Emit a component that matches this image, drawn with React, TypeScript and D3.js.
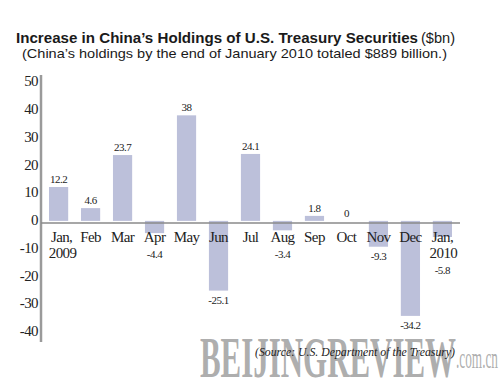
import React from "react";
import * as d3 from "d3";

const months = ["Jan,", "Feb", "Mar", "Apr", "May", "Jun", "Jul", "Aug", "Sep", "Oct", "Nov", "Dec", "Jan,"];
const years = ["2009", "", "", "", "", "", "", "", "", "", "", "", "2010"];
const values = [12.2, 4.6, 23.7, -4.4, 38, -25.1, 24.1, -3.4, 1.8, 0, -9.3, -34.2, -5.8];
const valueLabels = ["12.2", "4.6", "23.7", "-4.4", "38", "-25.1", "24.1", "-3.4", "1.8", "0", "-9.3", "-34.2", "-5.8"];
const yTicks = [50, 40, 30, 20, 10, 0, -10, -20, -30, -40];

const title = "Increase in China\u2019s Holdings of U.S. Treasury Securities";
const titleUnit = "($bn)";
const subtitle = "(China\u2019s holdings by the end of January 2010 totaled $889 billion.)";
const source = "(Source: U.S. Department of the Treasury)";

export default function App() {
  const W = 500, H = 380;
  const axisX = 41, axisEnd = 460;
  const x = d3.scaleBand<number>().domain(d3.range(values.length)).range([axisX, axisEnd]).paddingInner(0.4).paddingOuter(0.25);
  const y = d3.scaleLinear().domain([-40, 50]).range([332, 82]);
  const serif = "'Liberation Serif', 'DejaVu Serif', serif";
  const sans = "'Liberation Sans', Arial, sans-serif";
  const catBase = y(0) + 21;
  const lineH = 16;
  return (
    <svg width={W} height={H} style={{ position: "absolute", left: 0, top: 0, background: "#fff" }}>
      <text x={16} y={43} fontFamily={sans} fontWeight="bold" fontSize={15} fill="#1a1a1a" textLength={402} lengthAdjust="spacingAndGlyphs">{title}</text>
      <text x={421} y={43} fontFamily={sans} fontSize={15} fill="#1a1a1a" textLength={34} lengthAdjust="spacingAndGlyphs">{titleUnit}</text>
      <text x={22} y={58} fontFamily={sans} fontSize={13} fill="#1a1a1a" textLength={425} lengthAdjust="spacingAndGlyphs">{subtitle}</text>

      {values.map((v, i) => (
        <rect key={"b" + i} x={x(i)} width={x.bandwidth()} y={Math.min(y(v), y(0))} height={Math.abs(y(v) - y(0))} fill="#bcc0da" />
      ))}

      <line x1={axisX} x2={axisX} y1={75} y2={342} stroke="#9a9a9a" strokeWidth={2.5} />
      <line x1={axisX} x2={axisEnd} y1={y(0) + 2} y2={y(0) + 2} stroke="#8a8a8a" strokeWidth={1.5} />

      {yTicks.map((t) => (
        <text key={"t" + t} x={38} y={y(t) - 1} dy="0.35em" textAnchor="end" fontFamily={serif} fontSize={15} fill="#222" letterSpacing={-0.6}>{t}</text>
      ))}

      {months.map((m, i) => {
        const off = i === 0 ? 3 : 0;
        return (
          <g key={"c" + i}>
            <text x={x(i)! + x.bandwidth() / 2 + off} y={catBase} textAnchor="middle" fontFamily={serif} fontSize={15} fill="#222" letterSpacing={-0.6}>{m}</text>
            {years[i] && (
              <text x={x(i)! + x.bandwidth() / 2 + off + 1} y={catBase + lineH} textAnchor="middle" fontFamily={serif} fontSize={15} fill="#222" letterSpacing={-0.6}>{years[i]}</text>
            )}
          </g>
        );
      })}

      {values.map((v, i) => {
        const cx = x(i)! + x.bandwidth() / 2;
        let yy: number;
        if (v >= 0) yy = y(v) - 4;
        else {
          const lastBase = catBase + (years[i] ? lineH : 0);
          yy = Math.max(y(v) + 13, lastBase + 16);
        }
        return (
          <text key={"v" + i} x={cx} y={yy} textAnchor="middle" fontFamily={serif} fontSize={11} fill="#222" letterSpacing={-0.5}>{valueLabels[i]}</text>
        );
      })}

      <text x={200} y={377} fontFamily={serif} fontWeight="bold" fontSize={58} fill="#a0a0a0" fillOpacity={0.85} textLength={256} lengthAdjust="spacingAndGlyphs">BEIJINGREVIEW</text>
      <text x={456} y={368} fontFamily={serif} fontSize={30} fill="#a0a0a0" fillOpacity={0.85} textLength={42} lengthAdjust="spacingAndGlyphs">.com.cn</text>

      <text x={255} y={356} fontFamily={serif} fontStyle="italic" fontSize={12} fill="#222" textLength={200} lengthAdjust="spacingAndGlyphs">{source}</text>
    </svg>
  );
}
